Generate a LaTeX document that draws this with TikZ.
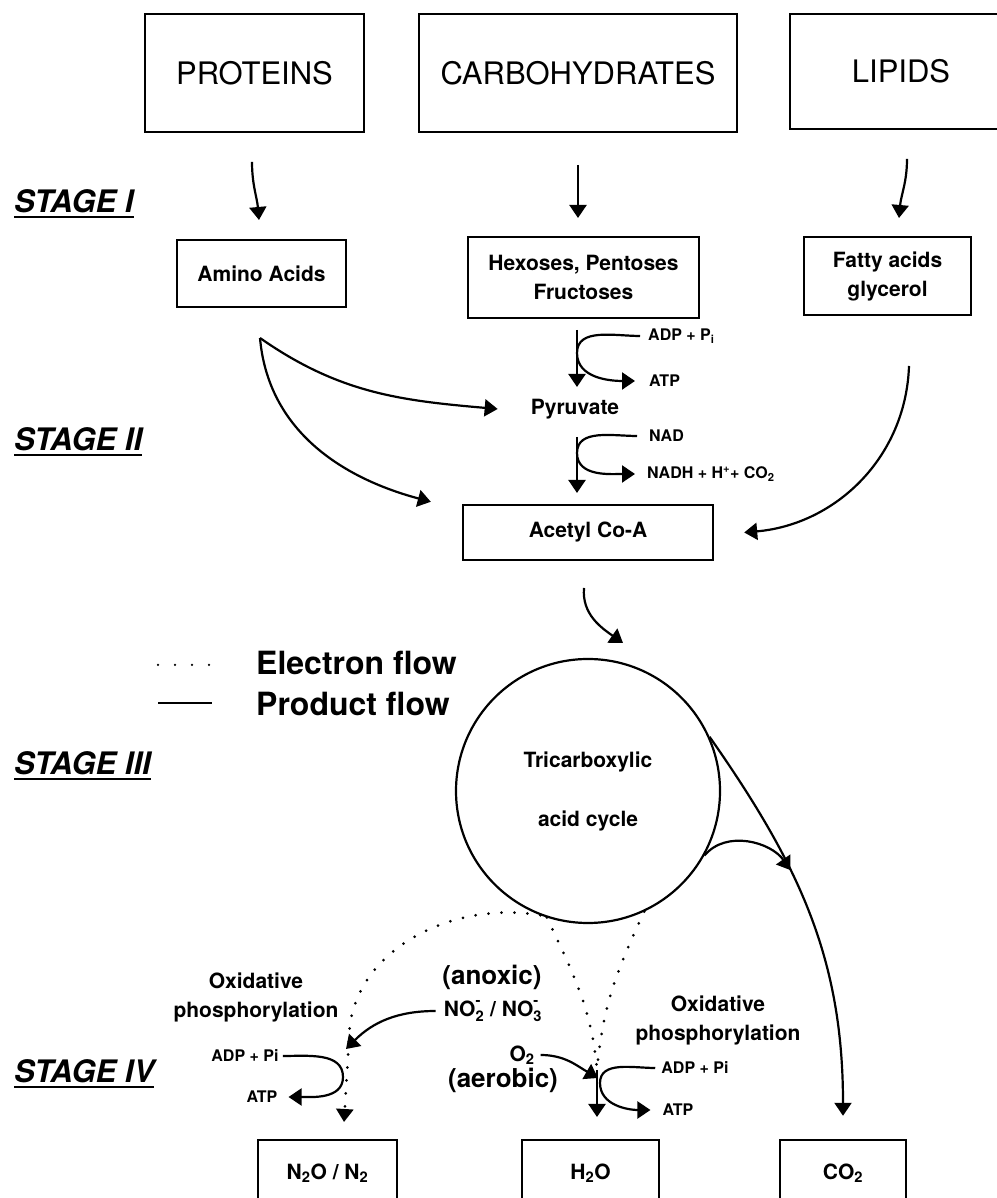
\documentclass[tikz,border=0pt]{standalone}
\usepackage{fontspec}
\setmainfont{TeX Gyre Heros}
\usetikzlibrary{arrows.meta}
\newcommand\sizefont[2]{\fontsize{#1}{#2}\selectfont}
\newcommand\stageul[1]{\setbox0\hbox{#1}\rlap{\rule[-5.5pt]{\wd0}{2.6pt}}\box0}
\newcommand\ion[2]{\rlap{\raisebox{.3ex}{\textsuperscript{#2}}}\raisebox{-.15ex}{\textsubscript{#1}}}
\begin{document}
\begin{tikzpicture}[x=1pt,y=1pt,
    box/.style={draw,line width=2.4pt,inner sep=0pt},
    big/.style={font=\sizefont{31}{36}},
    labeltxt/.style={font=\sizefont{21}{29}\bfseries,align=center,inner sep=0pt},
    reagent/.style={font=\sizefont{16}{19}\bfseries,inner sep=0pt},
    legendtxt/.style={font=\sizefont{32}{38}\bfseries,anchor=west,inner sep=0pt},
    stagetxt/.style={font=\sizefont{31}{36}\bfseries\itshape,anchor=base west,inner sep=0pt},
    flow/.style={line width=2.2pt,-{Triangle[length=13pt,width=17pt]}},
    elec/.style={line width=3pt,line cap=round,dash pattern=on 0pt off 13pt}]
\useasboundingbox (0,0) rectangle (996,1198);
% sources
\node[box,big,minimum width=219pt,minimum height=118pt] (prot) at (254.5,1125) {PROTEINS};
\node[box,big,minimum width=318pt,minimum height=118pt] (carb) at (578,1125) {CARBOHYDRATES};
\node[box,big,minimum width=222pt,minimum height=115pt] (lip) at (901,1126.5) {LIPIDS};
% stage labels
\node[stagetxt] (s1) at (14,985) {\stageul{STAGE I}};
\node[stagetxt] (s2) at (14,747) {\stageul{STAGE II}};
\node[stagetxt] (s3) at (14,423) {\stageul{STAGE III}};
\node[stagetxt] (s4) at (14,115) {\stageul{STAGE IV}};
% stage I
\coordinate (p1) at (252,1036); \coordinate (p2) at (259,978);
\coordinate (c1) at (578,1033); \coordinate (c2) at (578,980);
\coordinate (f1) at (907,1039); \coordinate (f2) at (899,980);
\draw[flow] (p1) to[out=-90,in=95] (p2);
\draw[flow] (c1) -- (c2);
\draw[flow] (f1) to[out=-90,in=85] (f2);
\node[box,labeltxt,minimum width=169pt,minimum height=67pt] (amino) at (261.5,924.5) {Amino Acids};
\node[box,labeltxt,minimum width=231pt,minimum height=81pt] (hex) at (583.5,920.5) {Hexoses, Pentoses\\Fructoses};
\node[box,labeltxt,minimum width=167pt,minimum height=78pt] (fatty) at (887.5,922) {Fatty acids\\glycerol};
% stage II
\node[labeltxt] (pyr) at (575,789) {Pyruvate};
\node[reagent,anchor=west] (adp1) at (648,862) {ADP + P\textsubscript{i}};
\node[reagent,anchor=west] (atp1) at (649,817) {ATP};
\node[reagent,anchor=west] (nad) at (649,762) {NAD};
\node[reagent,anchor=west] (nadh) at (647,724) {NADH + H\textsuperscript{+}+ CO\textsubscript{2}};
\node[box,labeltxt,minimum width=250pt,minimum height=55pt] (acetyl) at (588,665.5) {Acetyl Co-A};
\coordinate (g0) at (577,868); \coordinate (g1) at (577,845); \coordinate (g2) at (577,811);
\draw[flow] (g0) -- (g2);
\draw[flow] ([xshift=-8pt]adp1.west) to[out=180,in=90] (g1) to[out=-90,in=180] ([xshift=-14pt]atp1.west);
\coordinate (n0) at (577,761); \coordinate (n1) at (577,745); \coordinate (n2) at (577,705);
\draw[flow] (n0) -- (n2);
\draw[flow] ([xshift=-12pt]nad.west) to[out=180,in=90] (n1) to[out=-90,in=180] ([xshift=-12pt]nadh.west);
\coordinate (aj) at (260,860);
\draw[flow] (aj) to[out=-35,in=175] ([xshift=-33pt]pyr.west);
\draw[flow] (aj) to[out=-85,in=165] ([xshift=-31pt,yshift=2pt]acetyl.north west);
\coordinate (fj) at (909,832);
\draw[flow] (fj) to[out=-92,in=5] ([xshift=30pt]acetyl.east);
% stage III
\node[draw,circle,line width=2.2pt,minimum size=264pt,inner sep=0pt,align=center,font=\sizefont{21}{59}\bfseries] (tca) at (588,407) {Tricarboxylic\\acid cycle};
\coordinate (a0) at (584,610); \coordinate (a1) at (623,555);
\draw[flow] (a0) to[out=-95,in=145] (a1);
% legend
\coordinate (e1) at (158,533); \coordinate (e2) at (212,533);
\draw[elec,line width=2.5pt,dash pattern=on 0pt off 17pt] (e1) -- (e2);
\node[legendtxt] (ef) at (256,535) {Electron flow};
\coordinate (q1) at (158,495); \coordinate (q2) at (212,495);
\draw[line width=2.4pt] (q1) -- (q2);
\node[legendtxt] (pf) at (256,494) {Product flow};
% stage IV
\node[box,labeltxt,minimum width=139pt,minimum height=66pt] (n2o) at (327.5,25) {N\textsubscript{2}O / N\textsubscript{2}};
\node[box,labeltxt,minimum width=137pt,minimum height=66pt] (h2o) at (590.5,25) {H\textsubscript{2}O};
\node[box,labeltxt,minimum width=126pt,minimum height=66pt] (co2) at (843,25) {CO\textsubscript{2}};
\draw[flow] (tca.24) to[out=-55,in=90] coordinate[pos=.37] (cj) ([yshift=23pt]co2.north);
\draw[flow] (tca.-29) to[out=50,in=125] (cj);
\coordinate (nt) at (349,158); \coordinate (nb) at (344,76);
\draw[elec,-{Triangle[length=13pt,width=17pt]}] (tca.-111) to[out=170,in=90] (nt) -- (nb);
\coordinate (hj) at (597,128); \coordinate (hb) at (597,81);
\draw[elec] (tca.-108) to[out=-65,in=95] (hj);
\draw[elec] (tca.-65) to[out=-115,in=85] (hj);
\draw[flow] (hj) -- (hb);
\node[labeltxt,font=\sizefont{26}{30}\bfseries] (anox) at (492,221) {(anoxic)};
\node[labeltxt] (no) at (493,187) {NO\ion{2}{-} / NO\ion{3}{-}};
\coordinate (nt2) at (346,149);
\draw[flow] ([xshift=-8pt]no.west) to[out=180,in=45] (nt2);
\node[labeltxt] (o2) at (522,143) {O\textsubscript{2}};
\node[labeltxt,font=\sizefont{26}{30}\bfseries] (aer) at (503,118) {(aerobic)};
\coordinate (ot) at (598,120);
\draw[flow] ([xshift=6pt]o2.east) to[out=0,in=150] (ot);
\node[labeltxt] (ox1) at (256,201) {Oxidative\\phosphorylation};
\node[labeltxt] (ox2) at (718,178) {Oxidative\\phosphorylation};
\node[reagent] (adp2) at (245,142) {ADP + Pi};
\node[reagent] (atp2) at (262,101) {ATP};
\coordinate (lj) at (343,121);
\draw[flow] ([xshift=4pt]adp2.east) to[out=0,in=90] (lj) to[out=-90,in=0] ([xshift=11pt]atp2.east);
\node[reagent] (adp3) at (695,130) {ADP + Pi};
\node[reagent] (atp3) at (678,88) {ATP};
\coordinate (rj) at (600,115);
\draw[flow] ([xshift=-6pt]adp3.west) to[out=180,in=90] (rj) to[out=-90,in=180] ([xshift=-12pt]atp3.west);
\end{tikzpicture}
\end{document}
